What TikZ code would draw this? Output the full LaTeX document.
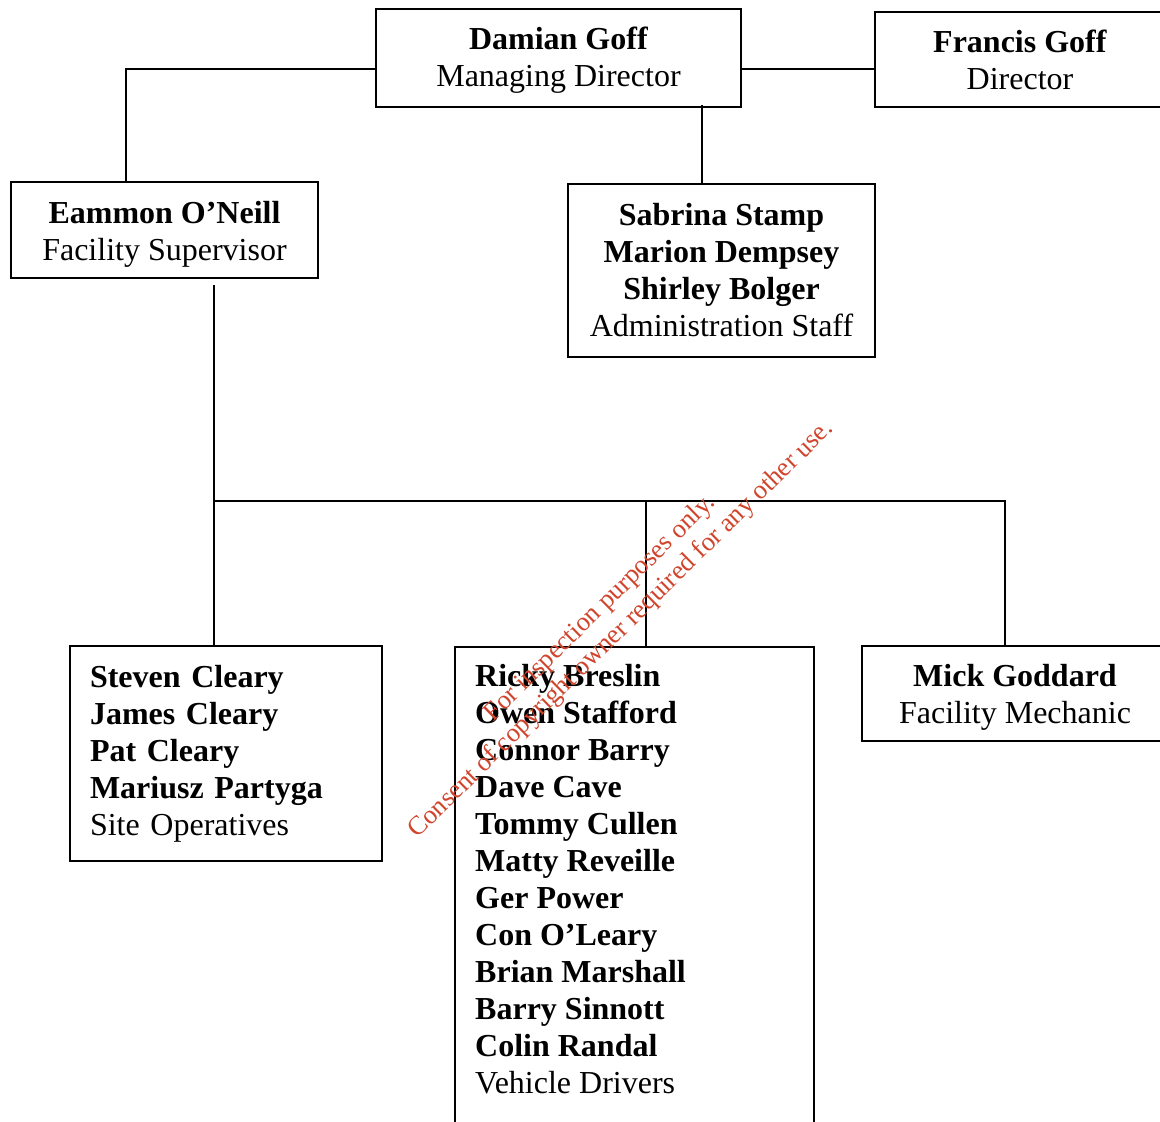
\documentclass[tikz,border=0pt]{standalone}
\usepackage{fontspec}
\setmainfont{Liberation Serif}
\newcommand{\uplift}[1]{\rule{0pt}{#1}}
\begin{document}
\begin{tikzpicture}[x=1pt,y=-1pt,
  frame/.style={draw, line width=1.5pt, inner sep=0pt},
  ctext/.style={font=\fontsize{32}{37}\selectfont, align=center},
  ltext/.style={font=\fontsize{32}{37}\selectfont, align=left},
  link/.style={line width=1.5pt},
  wmark/.style={text=wmred, font=\fontsize{26.5}{30}\selectfont, align=center, rotate=44.5, inner sep=0pt}]
\definecolor{wmred}{RGB}{208,68,44}
\useasboundingbox (0,0) rectangle (1160,1122);
% boxes
\node[frame, ctext, minimum width=365, minimum height=98] (damian) at (558.5,58)
  {\uplift{26pt}\textbf{Damian Goff}\\Managing Director};
\node[frame, ctext, minimum width=290, minimum height=95] (francis) at (1020,59.5)
  {\textbf{Francis Goff}\\Director};
\node[frame, ctext, minimum width=307, minimum height=96] (eammon) at (164.5,230)
  {\uplift{30pt}\textbf{Eammon O’Neill}\\Facility Supervisor};
\node[frame, ctext, minimum width=307, minimum height=173] (admin) at (721.5,270.5)
  {\textbf{Sabrina Stamp}\\\textbf{Marion Dempsey}\\\textbf{Shirley Bolger}\\Administration Staff};
\node[frame, ltext, text width=272, inner xsep=20pt, minimum height=215] (sites) at (226,753.5)
  {\textbf{Steven Cleary}\\\textbf{James Cleary}\\\textbf{Pat Cleary}\\\textbf{Mariusz Partyga}\\Site Operatives};
\node[frame, minimum width=359, minimum height=520, anchor=north] (drivers) at (634.5,646) {};
\node[ltext, anchor=north west, inner sep=0pt] (drvtext) at (475,664)
  {\textbf{Ricky Breslin}\\\textbf{Owen Stafford}\\\textbf{Connor Barry}\\\textbf{Dave Cave}\\\textbf{Tommy Cullen}\\\textbf{Matty Reveille}\\\textbf{Ger Power}\\\textbf{Con O’Leary}\\\textbf{Brian Marshall}\\\textbf{Barry Sinnott}\\\textbf{Colin Randal}\\Vehicle Drivers};
\node[frame, ctext, minimum width=306, minimum height=95] (mick) at (1015,693.5)
  {\uplift{30pt}\textbf{Mick Goddard}\\Facility Mechanic};
% junctions
\coordinate (j1) at (126,69);
\coordinate (j2) at (702,105);
\coordinate (j3) at (214,285);
\coordinate (j4) at (214,501);
\coordinate (j5) at (646,501);
\coordinate (j6) at (1005,501);
% connectors
\draw[link] (damian.west |- j1) -- (j1) -- (eammon.north -| j1);
\draw[link] (damian.east |- j1) -- (francis.west |- j1);
\draw[link] (j2) -- (admin.north -| j2);
\draw[link] (j3) -- (sites.north -| j3);
\draw[link] (j4) -- (j6) -- (mick.north -| j6);
\draw[link] (j5) -- (drivers.north -| j5);
% watermark
\node[wmark] (wm) at (611,619)
  {For inspection purposes only.\\Consent of copyright owner required for any other use.};
\end{tikzpicture}
\end{document}
